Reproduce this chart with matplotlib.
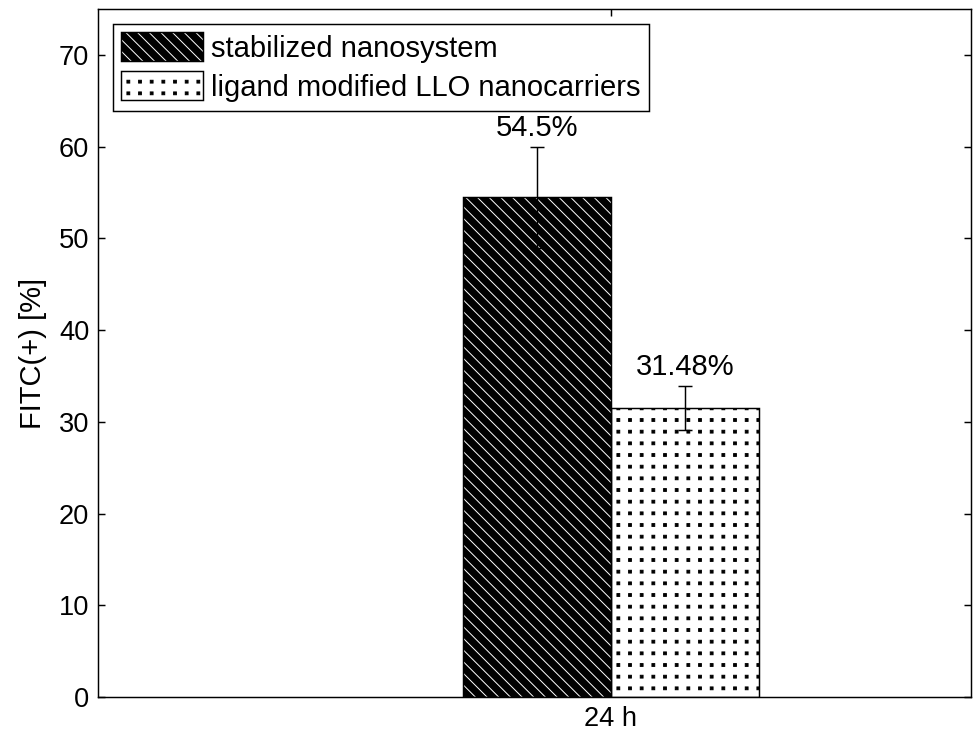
import numpy as np
import matplotlib
matplotlib.use("Agg")
import matplotlib.pyplot as plt
import matplotlib.hatch as mhatch
from matplotlib.path import Path
from matplotlib.patches import Patch
from matplotlib.legend_handler import HandlerTuple

# ---- data ----
categories = ["24 h"]
series_names = ["stabilized nanosystem", "ligand modified LLO nanocarriers"]
values = [54.5, 31.48]
errors = [5.5, 2.4]
value_labels = ["54.5%", "31.48%"]
yticks = [0, 10, 20, 30, 40, 50, 60, 70]


# grid of small square dots for '.' hatch (regular grid, not staggered)
class GridSquares(mhatch.HatchPatternBase):
    def __init__(self, hatch, density):
        self.num_rows = int(hatch.count('.') * density)
        self.shape_vertices = np.array([[-1, -1], [1, -1], [1, 1], [-1, 1], [-1, -1]], float)
        self.shape_codes = np.array([Path.MOVETO, Path.LINETO, Path.LINETO,
                                     Path.LINETO, Path.CLOSEPOLY], dtype=Path.code_type)
        self.num_vertices = (self.num_rows + 1) ** 2 * 5 if self.num_rows else 0

    def set_vertices_and_codes(self, vertices, codes):
        offset = 1.0 / self.num_rows
        sv = self.shape_vertices * offset * 0.12
        nv = len(sv)
        cursor = 0
        pos = np.linspace(0, 1, self.num_rows + 1)
        for r in pos:
            for c in pos:
                vertices[cursor:cursor + nv] = sv + (c, r)
                codes[cursor:cursor + nv] = self.shape_codes
                cursor += nv


mhatch._hatch_types = [GridSquares if t is mhatch.SmallFilledCircles else t
                       for t in mhatch._hatch_types]

DPI = 70
plt.rcParams['font.family'] = ['Liberation Sans', 'DejaVu Sans']
plt.rcParams['hatch.linewidth'] = 1.0
FS_TICK = 28
FS = 30

fig = plt.figure(figsize=(973 / DPI, 732 / DPI), dpi=DPI)
ax = fig.add_axes([98 / 973, 35 / 732, (971 - 98) / 973, (697 - 9) / 732])

x = np.arange(1, len(categories) + 1)
w = 0.3
offsets = [-w / 2, w / 2]
HATCH1 = '\\\\'

# series 1: black with white diagonal lines
b1 = ax.bar(x + offsets[0], [values[0]], w, color='black', edgecolor='white',
            hatch=HATCH1, linewidth=0, zorder=2)
b1e = ax.bar(x + offsets[0], [values[0]], w, facecolor='none', edgecolor='black',
             linewidth=1.5, zorder=3)
# series 2: white with black dots
b2 = ax.bar(x + offsets[1], [values[1]], w, facecolor='white', edgecolor='black',
            hatch='.', linewidth=1.5, zorder=2)

for i in range(2):
    xi = x + offsets[i]
    ax.errorbar(xi, [values[i]], yerr=[errors[i]], fmt='none', ecolor='black',
                elinewidth=1.5, capsize=7, capthick=1.5, zorder=4)
    ax.annotate(value_labels[i], (xi[0], values[i] + errors[i]), xytext=(0, 5),
                textcoords='offset points', ha='center', va='bottom', fontsize=FS)

ax.set_ylim(0, 75)
ax.set_xlim(1 - 513 / 491.7, 1 + 360 / 491.7)
ax.set_yticks(yticks)
ax.set_xticks(x)
ax.set_xticklabels(categories)
ax.tick_params(direction='in', length=7, width=1.5, top=True, right=True,
               labelsize=FS_TICK, pad=9)
for s in ax.spines.values():
    s.set_linewidth(1.5)
ax.set_ylabel("FITC(+) [%]", fontsize=FS, labelpad=12)

h1 = (Patch(facecolor='black', edgecolor='white', hatch=HATCH1, linewidth=0),
      Patch(facecolor='none', edgecolor='black', linewidth=1.5))
h2 = Patch(facecolor='white', edgecolor='black', hatch='.', linewidth=1.5)
leg = ax.legend([h1, h2], series_names, loc='upper left', fontsize=FS,
                handler_map={tuple: HandlerTuple(ndivide=1)},
                handlelength=2.8, handleheight=1.15, handletextpad=0.27,
                labelspacing=0.3, borderpad=0.3, borderaxespad=0.5,
                fancybox=False, shadow=False, framealpha=1)
leg.get_frame().set_edgecolor('black')
leg.get_frame().set_linewidth(1.5)

fig.savefig("out.png", dpi=DPI)
